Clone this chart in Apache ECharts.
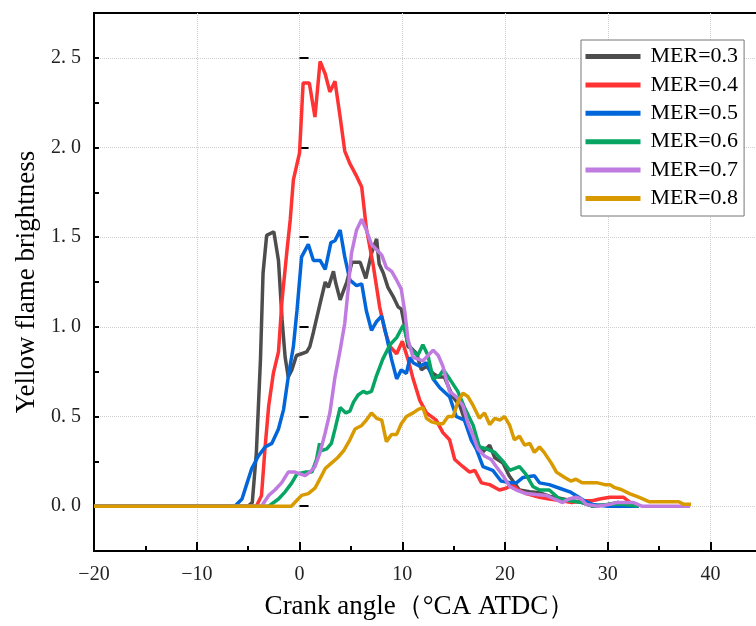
<!DOCTYPE html>
<html>
<head>
<meta charset="utf-8">
<script src="https://cdn.jsdelivr.net/npm/echarts@6/dist/echarts.min.js"></script>
<style>html,body{margin:0;padding:0;background:#fff}#c{width:756px;height:626px}</style>
</head>
<body>
<div id="c"></div>
<script>
var seriesNames = ['MER=0.3','MER=0.4','MER=0.5','MER=0.6','MER=0.7','MER=0.8'];
var yTickLabels = [0, 0.5, 1.0, 1.5, 2.0, 2.5];
var xTickLabels = [-20, -10, 0, 10, 20, 30, 40];

var mer03 = [[-20,0],[-5,0],[-4.6,0.02],[-4.2,0.3],[-3.8,0.82],[-3.55,1.3],[-3.2,1.51],[-2.5,1.53],[-2.05,1.37],[-1.7,1.04],[-1.4,0.83],[-1.1,0.72],[-0.75,0.76],[-0.3,0.84],[0.2,0.85],[0.7,0.86],[1.0,0.89],[1.35,0.97],[2.0,1.13],[2.5,1.25],[2.8,1.22],[3.3,1.31],[3.5,1.25],[3.95,1.15],[4.4,1.22],[4.6,1.25],[5.1,1.36],[5.9,1.36],[6.45,1.27],[7.0,1.41],[7.5,1.49],[7.75,1.35],[8.15,1.3],[8.6,1.22],[9.1,1.17],[9.6,1.11],[9.9,1.1],[10.25,1.0],[10.55,0.89],[10.9,0.88],[11.4,0.85],[11.85,0.76],[12.35,0.78],[13.0,0.74],[13.5,0.72],[14.1,0.72],[14.9,0.61],[15.6,0.56],[16.2,0.46],[16.9,0.39],[17.8,0.30],[18.5,0.34],[19.0,0.27],[19.8,0.24],[20.4,0.17],[21.4,0.09],[22.4,0.08],[23.35,0.075],[24.3,0.056],[25.3,0.045],[26.5,0.03],[27.5,0.02],[28.5,0.0],[30,0.01],[31,0.02],[32,0.01],[33,0]];
var mer04 = [[-20,0],[-4.2,0],[-3.7,0.06],[-3.35,0.33],[-3.0,0.56],[-2.55,0.74],[-2.05,0.86],[-1.7,1.15],[-1.25,1.41],[-0.9,1.6],[-0.6,1.82],[0,1.97],[0.35,2.36],[0.95,2.36],[1.5,2.17],[2.0,2.48],[2.5,2.41],[2.95,2.31],[3.45,2.37],[3.95,2.17],[4.4,1.98],[4.9,1.91],[5.55,1.84],[6.05,1.78],[6.5,1.55],[7.15,1.35],[7.8,1.11],[8.3,0.98],[8.8,0.89],[9.45,0.85],[10.0,0.92],[10.55,0.82],[11.05,0.71],[11.7,0.59],[12.35,0.52],[13.3,0.48],[13.95,0.41],[14.6,0.37],[15.1,0.26],[15.9,0.22],[16.55,0.19],[17.05,0.2],[17.7,0.13],[18.5,0.12],[19.45,0.09],[20.1,0.1],[20.75,0.12],[21.3,0.09],[22.05,0.07],[23.35,0.05],[24.3,0.04],[25.5,0.03],[26.5,0.02],[27.5,0.03],[28.5,0.03],[29.2,0.04],[30.2,0.05],[31.5,0.05],[32.2,0.02],[32.8,0]];
var mer05 = [[-20,0],[-6.3,0],[-5.6,0.04],[-5.1,0.13],[-4.65,0.21],[-4.0,0.28],[-3.35,0.33],[-2.7,0.35],[-2.05,0.43],[-1.55,0.54],[-1.1,0.72],[-0.6,0.89],[-0.25,1.09],[0.2,1.39],[0.85,1.46],[1.35,1.37],[2.0,1.37],[2.5,1.32],[3.05,1.47],[3.45,1.48],[3.95,1.54],[4.4,1.39],[4.9,1.26],[5.55,1.23],[6.05,1.24],[6.5,1.09],[7.0,0.98],[7.5,1.03],[8.0,1.06],[8.45,0.95],[8.95,0.82],[9.45,0.71],[9.9,0.76],[10.4,0.74],[10.75,0.83],[11.05,0.8],[11.7,0.78],[12.35,0.8],[13.0,0.71],[13.65,0.66],[14.6,0.61],[15.25,0.5],[16.05,0.48],[16.7,0.37],[17.2,0.32],[17.85,0.22],[18.8,0.2],[19.6,0.14],[20.6,0.13],[21.1,0.13],[21.75,0.16],[22.85,0.17],[23.35,0.13],[24.3,0.12],[25.3,0.1],[26.3,0.08],[26.9,0.06],[27.7,0.03],[28.5,0.01],[30,0],[33,0]];
var mer06 = [[-20,0],[-3.0,0],[-2.05,0.04],[-1.4,0.08],[-0.75,0.13],[-0.25,0.18],[0.55,0.19],[1.2,0.19],[1.65,0.26],[1.95,0.35],[2.15,0.31],[2.65,0.32],[3.1,0.35],[3.45,0.43],[3.95,0.55],[4.5,0.52],[4.9,0.53],[5.25,0.58],[5.7,0.62],[6.2,0.64],[6.55,0.63],[7.0,0.64],[7.5,0.73],[8.1,0.82],[8.8,0.9],[9.45,0.94],[10.1,1.01],[10.5,0.92],[10.9,0.87],[11.5,0.84],[12.0,0.9],[12.5,0.84],[13.0,0.71],[13.65,0.73],[14.0,0.76],[14.6,0.71],[15.4,0.64],[16.05,0.55],[16.9,0.45],[17.5,0.33],[18.2,0.32],[19.0,0.3],[19.8,0.25],[20.45,0.2],[21.4,0.22],[22.0,0.18],[22.7,0.11],[23.35,0.09],[24.3,0.09],[25.3,0.04],[26.3,0.03],[27.5,0.02],[28.5,0.0],[30,0.01],[31.5,0.01],[33,0]];
var mer07 = [[-20,0],[-3.7,0],[-3.0,0.06],[-2.4,0.09],[-1.75,0.13],[-1.1,0.19],[-0.45,0.19],[0.05,0.18],[0.55,0.17],[1.0,0.19],[1.5,0.22],[2.0,0.3],[2.5,0.41],[2.95,0.52],[3.45,0.72],[3.95,0.87],[4.4,1.02],[4.75,1.22],[5.05,1.41],[5.55,1.54],[6.05,1.6],[6.5,1.54],[7.0,1.46],[7.5,1.43],[8.0,1.4],[8.45,1.33],[8.95,1.31],[9.45,1.26],[9.9,1.21],[10.25,1.08],[10.55,0.93],[11.05,0.83],[11.55,0.82],[12.0,0.81],[12.5,0.84],[13.0,0.87],[13.5,0.84],[13.95,0.78],[14.3,0.7],[14.6,0.64],[15.25,0.61],[15.9,0.56],[16.4,0.46],[16.9,0.39],[17.35,0.32],[18.0,0.28],[18.65,0.26],[19.15,0.22],[19.8,0.17],[20.45,0.11],[21.1,0.09],[22.05,0.07],[23.0,0.065],[24.0,0.06],[24.8,0.04],[25.6,0.02],[26.2,0.04],[26.9,0.05],[27.4,0.04],[27.9,0.01],[29,0],[30.2,0.01],[30.8,0.02],[32.5,0.02],[33.3,0],[38,0]];
var mer08 = [[-20,0],[-0.8,0],[-0.3,0.03],[0.2,0.06],[0.85,0.07],[1.5,0.1],[2.15,0.17],[2.5,0.21],[3.1,0.24],[3.7,0.27],[4.3,0.31],[4.9,0.37],[5.4,0.43],[6.05,0.45],[6.5,0.48],[7.0,0.52],[7.5,0.49],[8.0,0.48],[8.45,0.36],[8.95,0.4],[9.45,0.4],[9.9,0.46],[10.4,0.5],[11.05,0.52],[11.55,0.54],[12.0,0.55],[12.35,0.49],[12.85,0.47],[13.5,0.46],[13.95,0.46],[14.45,0.5],[14.95,0.5],[15.4,0.58],[15.9,0.63],[16.4,0.61],[16.9,0.56],[17.5,0.49],[18.0,0.52],[18.5,0.455],[19.0,0.49],[19.5,0.48],[19.95,0.5],[20.45,0.45],[20.9,0.37],[21.4,0.39],[21.9,0.34],[22.4,0.35],[22.85,0.3],[23.35,0.33],[23.8,0.3],[24.5,0.24],[25.0,0.19],[25.8,0.16],[26.4,0.14],[26.9,0.15],[27.5,0.13],[28.2,0.13],[29.0,0.13],[29.7,0.12],[30.2,0.12],[30.6,0.105],[31.3,0.093],[32.1,0.07],[33.0,0.05],[34.0,0.025],[35,0.025],[36,0.025],[36.9,0.025],[37.4,0.01],[38.1,0.01]];

var seriesData = [mer03, mer04, mer05, mer06, mer07, mer08];
var colors = ['#4d4d4d', '#ff3333', '#0066d9', '#06a564', '#c07be0', '#d99a00'];

var serif = 'Liberation Serif';
var chart = echarts.init(document.getElementById('c'), null, {renderer: 'canvas'});

function isMajorY(v) { return Math.abs(v * 2 - Math.round(v * 2)) < 1e-6; }

var option = {
  animation: false,
  backgroundColor: '#fff',
  color: colors,
  grid: {
    left: 94, top: 13, right: -6, bottom: 75,
    show: true, borderColor: '#000', borderWidth: 2,
    outerBoundsMode: 'none'
  },
  legend: {
    orient: 'vertical',
    left: 581, top: 40,
    data: seriesNames,
    backgroundColor: '#fff',
    borderColor: '#777', borderWidth: 1,
    padding: [5, 6, 6, 2],
    itemWidth: 55, itemHeight: 5, itemGap: 5.4,
    lineStyle: {width: 5},
    textStyle: {fontFamily: serif, fontSize: 22, color: '#000', lineHeight: 23, padding: [0, 0, 0, 5]}
  },
  xAxis: {
    type: 'value',
    min: -20, max: 45, interval: 10,
    name: 'Crank angle\uff08\u00b0CA ATDC\uff09',
    nameLocation: 'middle', nameGap: 42,
    nameTextStyle: {fontFamily: serif, fontSize: 27, color: '#000', padding: [0, 16, 0, 0]},
    axisLine: {show: true, onZero: false, lineStyle: {color: '#000', width: 2}},
    axisTick: {show: true, inside: true, length: 9, lineStyle: {color: '#000', width: 2}},
    minorTick: {show: true, splitNumber: 2, length: 5, lineStyle: {color: '#000', width: 2}},
    axisLabel: {
      fontFamily: serif, fontSize: 20, color: '#222', margin: 14,
      formatter: function (v) { return xTickLabels.indexOf(v) >= 0 ? String(v).replace('-', '\u2212') : ''; }
    },
    splitLine: {show: true, lineStyle: {type: 'dotted', color: '#cfcfcf', width: 1}}
  },
  yAxis: [{
    type: 'value',
    min: -0.25, max: 2.75, interval: 0.25,
    name: 'Yellow flame brightness',
    nameLocation: 'middle', nameGap: 54,
    nameTextStyle: {fontFamily: serif, fontSize: 27, color: '#000'},
    axisLine: {show: true, onZero: false, lineStyle: {color: '#000', width: 2}},
    axisTick: {show: true, inside: true, length: 5, lineStyle: {color: '#000', width: 2}},
    axisLabel: {
      fontFamily: serif, fontSize: 20, color: '#222', margin: 13,
      formatter: function (v) {
        if (!isMajorY(v) || yTickLabels.indexOf(Math.round(v * 2) / 2) < 0) return '';
        return v.toFixed(1).replace('.', '. ');
      }
    },
    splitLine: {show: true, lineStyle: {type: 'dotted', color: ['rgba(0,0,0,0)', '#cfcfcf'], width: 1}}
  }, {
    type: 'value',
    min: -0.25, max: 2.75, interval: 0.25,
    position: 'left',
    axisLine: {show: false},
    axisLabel: {show: false},
    splitLine: {show: false},
    axisTick: {show: true, inside: true, length: 9, customValues: yTickLabels, lineStyle: {color: '#000', width: 2}}
  }],
  series: seriesNames.map(function (n, i) {
    return {
      name: n,
      type: 'line',
      data: seriesData[i],
      symbol: 'none',
      showSymbol: false,
      lineStyle: {width: 3.5, color: colors[i]},
      itemStyle: {color: colors[i]},
      z: 2 + i
    };
  })
};
chart.setOption(option);
</script>
</body>
</html>
